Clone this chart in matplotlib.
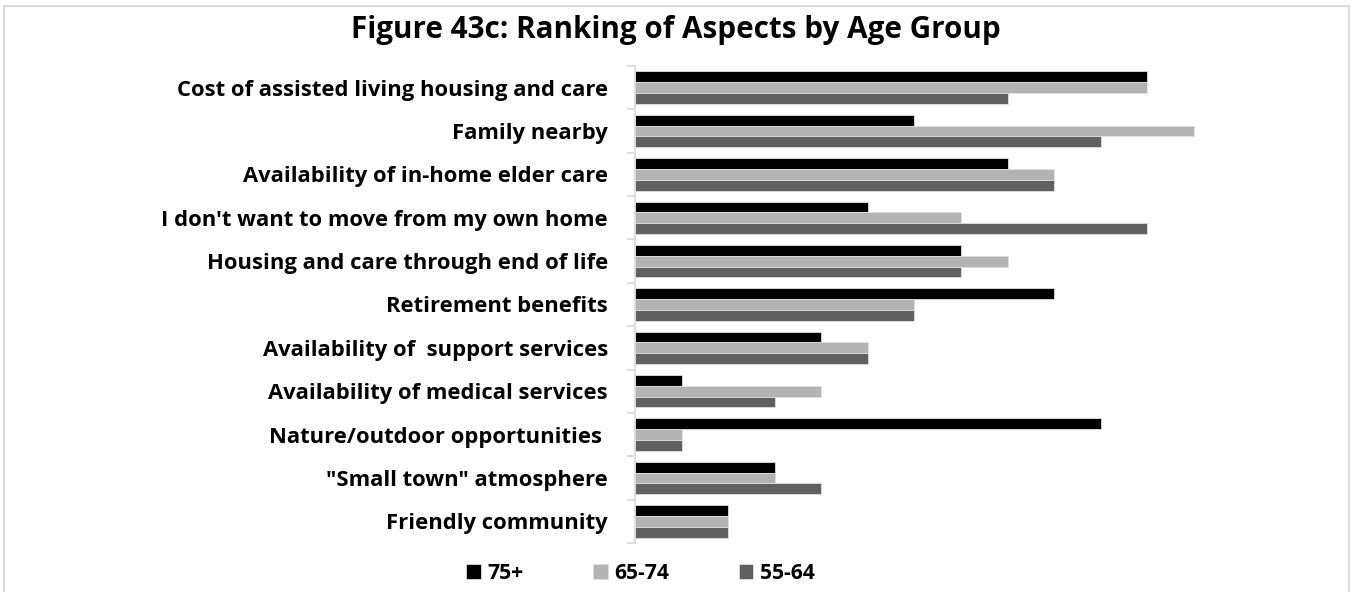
import numpy as np
import matplotlib.pyplot as plt
from matplotlib.patches import Rectangle

# Categories listed top to bottom
categorias = [
    'Cost of assisted living housing and care',
    'Family nearby',
    'Availability of in-home elder care',
    "I don't want to move from my own home",
    'Housing and care through end of life',
    'Retirement benefits',
    'Availability of  support services',
    'Availability of medical services',
    'Nature/outdoor opportunities ',
    '"Small town" atmosphere',
    'Friendly community',
]
grupos = ['75+', '65-74', '55-64']
edad_75 = [11, 6, 8, 5, 7, 9, 4, 1, 10, 3, 2]
edad_65 = [11, 12, 9, 7, 8, 6, 5, 4, 1, 3, 2]
edad_55 = [8, 10, 9, 11, 7, 6, 5, 3, 1, 4, 2]
colores = ['#000000', '#b3b3b3', '#606060']

fuente = 'Open Sans'

fig = plt.figure(figsize=(13.51, 5.92), dpi=100)
# light frame around the chart area, open at the bottom edge
fig.patches.append(Rectangle((0.003, -0.02), 0.9955, 1.01, transform=fig.transFigure,
                             fill=False, edgecolor='#d9d9d9', linewidth=1.5))

ax = fig.add_axes([635 / 1351, 49 / 592, 652 / 1351, 477 / 592])

n = len(categorias)
y = np.arange(n)[::-1].astype(float)
alto = 0.25
for i, (serie, color, nombre) in enumerate(zip([edad_75, edad_65, edad_55], colores, grupos)):
    ax.barh(y + alto * (1 - i), serie, height=alto, color=color,
            edgecolor='#e0e0e0', linewidth=0.6, label=nombre)

ax.set_xlim(0, 14)
ax.set_ylim(-0.5, n - 0.5)
ax.set_yticks(y)
ax.set_yticklabels(categorias, fontfamily=fuente, fontweight='bold', fontsize=15.8)
ax.tick_params(axis='y', which='major', length=0, pad=19.5)
ax.set_yticks(np.arange(-0.5, n, 1.0), minor=True)
ax.tick_params(axis='y', which='minor', length=6, color='#d9d9d9', width=1.2)
ax.set_xticks([])
for lado in ['top', 'right', 'bottom']:
    ax.spines[lado].set_visible(False)
ax.spines['left'].set_color('#d9d9d9')
ax.spines['left'].set_linewidth(1.2)

fig.text(0.5, 0.95, 'Figure 43c: Ranking of Aspects by Age Group', ha='center', va='center',
         fontfamily=fuente, fontweight='bold', fontsize=21.3)

fig.legend(loc='center', bbox_to_anchor=(0.474, 0.032), ncol=3, frameon=False,
           prop={'family': fuente, 'weight': 'bold', 'size': 15.2},
           handlelength=0.7, handleheight=0.7, handletextpad=0.3, columnspacing=3.3)

fig.savefig('out.png', dpi=100)
